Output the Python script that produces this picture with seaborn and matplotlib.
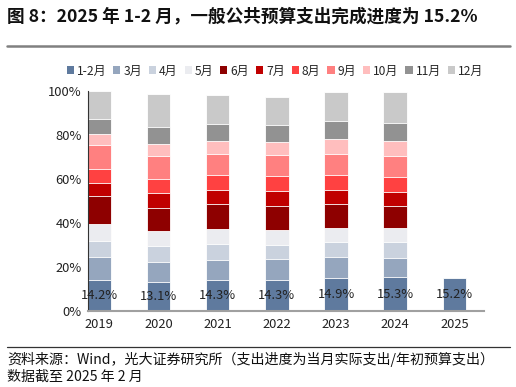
import numpy as np
import pandas as pd
import matplotlib
matplotlib.use("Agg")
import matplotlib.pyplot as plt
import seaborn as sns
from matplotlib.patches import Patch
from matplotlib.lines import Line2D

years = ["2019", "2020", "2021", "2022", "2023", "2024", "2025"]
months = ["1-2月", "3月", "4月", "5月", "6月", "7月", "8月", "9月", "10月", "11月", "12月"]
# monthly increments of budget expenditure progress (%), per year
v_1_2 = [14.2, 13.1, 14.3, 14.3, 14.9, 15.3, 15.2]
v_3 = [10.3, 9.0, 9.0, 9.3, 9.6, 8.9]
v_4 = [7.3, 7.4, 7.2, 6.4, 6.9, 7.0]
v_5 = [7.6, 6.9, 6.8, 7.0, 6.5, 6.7]
v_6 = [13.0, 10.4, 11.2, 10.9, 10.6, 9.7]
v_7 = [5.8, 6.8, 6.5, 6.8, 6.4, 6.6]
v_8 = [6.3, 6.4, 7.0, 6.8, 7.1, 6.6]
v_9 = [11.0, 10.5, 9.4, 9.4, 9.5, 9.8]
v_10 = [5.1, 5.6, 5.9, 6.1, 6.7, 6.8]
v_11 = [6.7, 7.4, 7.7, 7.5, 8.2, 8.2]
v_12 = [12.7, 15.3, 13.2, 12.6, 13.3, 13.8]
series = [v_1_2, v_3, v_4, v_5, v_6, v_7, v_8, v_9, v_10, v_11, v_12]
colors = ["#5F7A9E", "#95A6BE", "#CAD2DE", "#EBECF0", "#8E0000", "#C00000",
          "#FF4141", "#FF8080", "#FFBEBE", "#929292", "#C9C9C9"]
labels_1_2 = ["14.2%", "13.1%", "14.3%", "14.3%", "14.9%", "15.3%", "15.2%"]

rows = []
for yi, y in enumerate(years):
    cum = 0.0
    for mi, m in enumerate(months):
        s = series[mi]
        if yi < len(s):
            cum += s[yi]
            rows.append({"year": y, "month": m, "inc": s[yi], "cum": cum / 100.0})
df = pd.DataFrame(rows)

sns.set_theme(style="white")
plt.rcParams["font.family"] = ["Noto Sans CJK SC", "DejaVu Sans"]
plt.rcParams["axes.unicode_minus"] = False

fig = plt.figure(figsize=(5.16, 3.87), dpi=100)
ax = fig.add_axes([88 / 516, 1 - 311 / 387, (484 - 88) / 516, (311 - 91) / 387])

for mi in range(len(months) - 1, -1, -1):
    sub = df[df["month"] == months[mi]]
    sns.barplot(data=sub, x="year", y="cum", order=years, color=colors[mi],
                width=0.4, edgecolor="white", linewidth=0.6, saturation=1,
                ax=ax, errorbar=None)
first_container = ax.containers[-1]
ax.bar_label(first_container, labels=labels_1_2, label_type="center",
             fontsize=9.3, color="#222222")

ax.set_xlim(-0.19, 6.5)
ax.set_ylim(0, 1.0)
ax.set_yticks(np.arange(0, 1.01, 0.2))
ax.set_yticklabels([f"{int(round(t*100))}%" for t in np.arange(0, 1.01, 0.2)],
                   fontsize=9.3, color="#222222")
ax.set_xticks(range(len(years)))
ax.set_xticklabels(years, fontsize=9.3, color="#222222")
ax.set_xlabel("")
ax.set_ylabel("")
ax.tick_params(axis="x", which="major", length=0, pad=5)
ax.set_xticks(np.arange(0.5, 6.6, 1.0), minor=True)
ax.tick_params(axis="x", which="minor", direction="in", length=3, color="#A0A0A0", width=0.8)
ax.tick_params(axis="y", which="major", direction="out", length=3, color="#333333", width=0.8, pad=1.5)
for s in ["top", "right"]:
    ax.spines[s].set_visible(False)
ax.spines["left"].set_color("#333333")
ax.spines["left"].set_linewidth(0.8)
ax.spines["bottom"].set_color("#A0A0A0")
ax.spines["bottom"].set_linewidth(1.5)

handles = [Patch(facecolor=c, edgecolor="none") for c in colors]
fig.legend(handles, months, loc="center", bbox_to_anchor=(0.533, 1 - 71 / 387),
           ncol=11, frameon=False, fontsize=8.7, handlelength=0.6, handleheight=0.6,
           handletextpad=0.25, columnspacing=0.55, borderaxespad=0)

fig.text(7 / 516, 1 - 16 / 387, "图 8：2025 年 1-2 月，一般公共预算支出完成进度为 15.2%",
         fontsize=12.7, fontweight="bold", va="center", ha="left", color="#111111")
fig.add_artist(Line2D([7 / 516, 510 / 516], [1 - 46 / 387, 1 - 46 / 387],
                      color="#808080", linewidth=1.8, transform=fig.transFigure))
fig.add_artist(Line2D([7 / 516, 510 / 516], [1 - 347 / 387, 1 - 347 / 387],
                      color="#333333", linewidth=0.9, transform=fig.transFigure))
fig.text(7 / 516, 1 - 359 / 387,
         "资料来源：Wind，光大证券研究所（支出进度为当月实际支出/年初预算支出）",
         fontsize=10.1, va="center", ha="left", color="#111111")
fig.text(7 / 516, 1 - 377 / 387, "数据截至 2025 年 2 月",
         fontsize=10.1, va="center", ha="left", color="#111111")

fig.savefig("out.png", dpi=100)
